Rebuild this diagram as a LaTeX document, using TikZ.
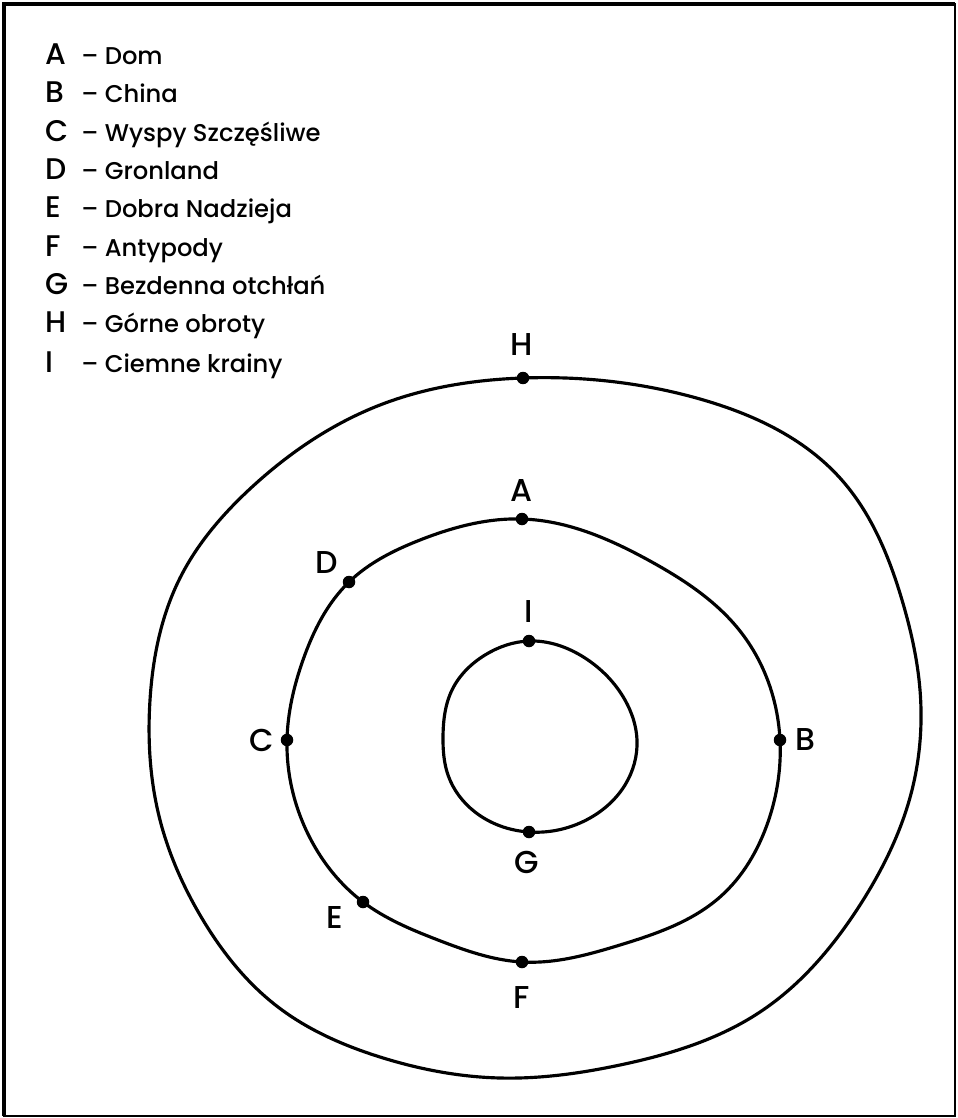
\documentclass[tikz,border=0pt]{standalone}
\usepackage{fontspec}
\setmainfont{Poppins}[UprightFont={* Medium}]
\usetikzlibrary{hobby}
\begin{document}
\begin{tikzpicture}[
    x=0.02cm, y=-0.02cm,
    ring/.style={draw=black, line width=1.8pt, line join=round},
    dot/.style={circle, fill=black, inner sep=0pt, minimum size=0.25cm},
    lbl/.style={font=\fontsize{18}{20}\selectfont, inner sep=0pt},
    key/.style={anchor=base west, font=\fontsize{17}{20}\selectfont, inner sep=0pt},
    desc/.style={anchor=base west, font=\fontsize{13.8}{16}\selectfont, inner sep=0pt}
]
    \useasboundingbox (0,0) rectangle (957,1118);
    % Frame, heavier on top and left
    \draw[line width=1pt] (4,4) rectangle (955,1116);
    \draw[line width=2.4pt] (4,1116) |- (955,4);

    % Legend
    \node[key]  (keyA) at (45,65)  {A};
    \node[desc] (descA) at (81,65)  {-- Dom};
    \node[key]  (keyB) at (45,103) {B};
    \node[desc] (descB) at (81,103) {-- China};
    \node[key]  (keyC) at (45,142) {C};
    \node[desc] (descC) at (81,142) {-- Wyspy Szczęśliwe};
    \node[key]  (keyD) at (45,180) {D};
    \node[desc] (descD) at (81,180) {-- Gronland};
    \node[key]  (keyE) at (45,218) {E};
    \node[desc] (descE) at (81,218) {-- Dobra Nadzieja};
    \node[key]  (keyF) at (45,257) {F};
    \node[desc] (descF) at (81,257) {-- Antypody};
    \node[key]  (keyG) at (45,295) {G};
    \node[desc] (descG) at (81,295) {-- Bezdenna otchłań};
    \node[key]  (keyH) at (45,333) {H};
    \node[desc] (descH) at (81,333) {-- Górne obroty};
    \node[key]  (keyI) at (45,372) {I};
    \node[desc] (descI) at (81,372) {-- Ciemne krainy};

    % Points on the rings
    \coordinate (ptH) at (523,378);
    \coordinate (ptA) at (522,519);
    \coordinate (ptB) at (780,740);
    \coordinate (ptC) at (287,740);
    \coordinate (ptD) at (349,582);
    \coordinate (ptE) at (363,902);
    \coordinate (ptF) at (522,962);
    \coordinate (ptG) at (529,832);
    \coordinate (ptI) at (529,641);

    % Rings
    \draw[ring] plot[closed hobby] coordinates {(ptH) (700,399) (840,478) (902,600) (920,690) (912,790) (860,905) (760,1012) (620,1065) (500,1078) (380,1057) (278,1007) (200,915) (160,820) (150,700) (180,578) (252,487) (380,405)};
    \draw[ring] plot[closed hobby] coordinates {(ptA) (650,561) (740,631) (ptB) (768,822) (720,897) (620,945) (ptF) (438,940) (ptE) (310,838) (ptC) (303,660) (ptD) (420,540)};
    \draw[ring] plot[closed hobby] coordinates {(ptI) (585,658) (625,700) (637,740) (625,785) (590,818) (ptG) (475,812) (448,775) (443,737) (452,690) (485,655)};

    % Dots and labels
    \node[dot] (dotH) at (ptH) {};
    \node[lbl] (lblH) at (522,345) {H};
    \node[dot] (dotA) at (ptA) {};
    \node[lbl] (lblA) at (522,490) {A};
    \node[dot] (dotD) at (ptD) {};
    \node[lbl] (lblD) at (327,563) {D};
    \node[dot] (dotI) at (ptI) {};
    \node[lbl] (lblI) at (529,612) {I};
    \node[dot] (dotC) at (ptC) {};
    \node[lbl] (lblC) at (262,740) {C};
    \node[dot] (dotB) at (ptB) {};
    \node[lbl] (lblB) at (805,740) {B};
    \node[dot] (dotG) at (ptG) {};
    \node[lbl] (lblG) at (527,862) {G};
    \node[dot] (dotE) at (ptE) {};
    \node[lbl] (lblE) at (335,917) {E};
    \node[dot] (dotF) at (ptF) {};
    \node[lbl] (lblF) at (522,997) {F};

\end{tikzpicture}
\end{document}
